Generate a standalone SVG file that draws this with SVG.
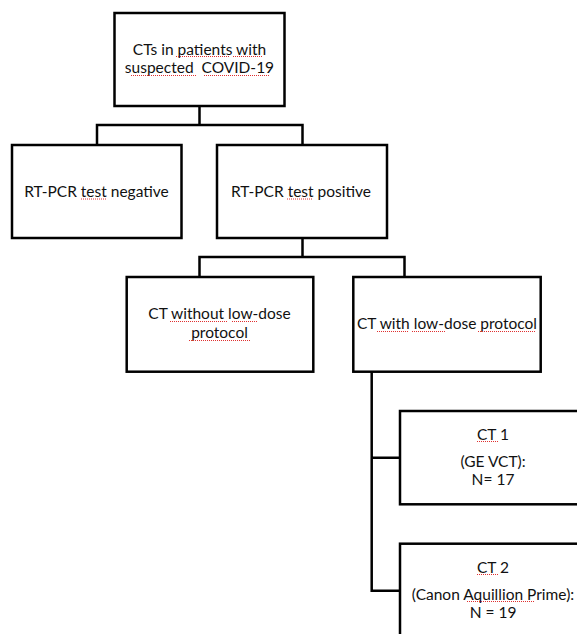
<svg xmlns="http://www.w3.org/2000/svg" width="577" height="634" viewBox="0 0 577 634">
<style>
.box{fill:#fff;stroke:#000;stroke-width:2.5}
.con{fill:none;stroke:#000;stroke-width:2.5}
.t{font-family:Lato,"Liberation Sans",sans-serif;font-size:15.5px;fill:#111;text-anchor:middle;white-space:pre}
.sq{fill:none;stroke:#e03030;stroke-width:1;stroke-dasharray:1 1}
</style>
<rect width="577" height="634" fill="#fff"/>
<g id="connectors">
<path class="con" d="M199.5 106V125M97 145V125H302.5V145"/>
<path class="con" d="M302.5 238V257M199.5 277V257H404.5V277"/>
<path class="con" d="M371.7 372V590.7H400M371.7 457.7H400"/>
</g>
<g id="n-top">
<rect class="box" x="114.5" y="13" width="170" height="93"/>
<text class="t" x="199.5" y="55">CTs in patients with</text>
<text class="t" x="199.5" y="73">suspected  COVID-19</text>
<path class="sq" d="M176 56.5H229M233 56.5H263M131 75.5H196M204 75.5H269"/>
</g>
<g id="n-neg">
<rect class="box" x="12" y="145" width="169.5" height="93"/>
<text class="t" x="96.5" y="197">RT-PCR test negative</text>
<path class="sq" d="M81 199H107"/>
</g>
<g id="n-pos">
<rect class="box" x="217" y="145" width="170" height="93"/>
<text class="t" x="301" y="197">RT-PCR test positive</text>
<path class="sq" d="M287 199H313"/>
</g>
<g id="n-without">
<rect class="box" x="126.7" y="277" width="186.6" height="94.7"/>
<text class="t" x="219.5" y="319">CT without low-dose</text>
<text class="t" x="219.5" y="338">protocol</text>
<path class="sq" d="M170 321.5H228M232 321.5H258M189 340.5H250"/>
</g>
<g id="n-with">
<rect class="box" x="353.3" y="277" width="187.4" height="94.7"/>
<text class="t" x="447" y="329">CT with low-dose protocol</text>
<path class="sq" d="M377 331.5H408M412 331.5H445M478 331.5H536"/>
</g>
<g id="n-ct1">
<rect class="box" x="400" y="411" width="190" height="93.3"/>
<text class="t" x="493" y="440">CT 1</text>
<text class="t" x="493" y="466.5">(GE VCT):</text>
<text class="t" x="493" y="485">N= 17</text>
<path class="sq" d="M477 441.5H498"/>
</g>
<g id="n-ct2">
<rect class="box" x="400" y="543.7" width="190" height="100"/>
<text class="t" x="493" y="573">CT 2</text>
<text class="t" x="493" y="600">(Canon Aquillion Prime):</text>
<text class="t" x="493" y="618">N = 19</text>
<path class="sq" d="M477 574.5H498M467 601.5H534"/>
</g>
</svg>
